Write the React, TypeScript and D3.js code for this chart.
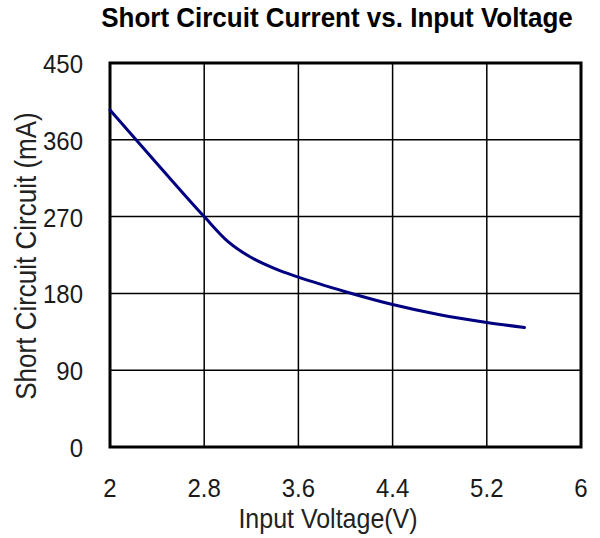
import React, { useEffect, useRef } from 'react';
import * as d3 from 'd3';

// values
const voltage = [2.0, 2.4, 2.8, 3.0, 3.2, 3.4, 3.6, 4.0, 4.4, 4.8, 5.2, 5.52];
const current = [395, 332, 270, 241, 222, 209, 199, 182, 167, 155, 146, 140];
const xTicks = [2, 2.8, 3.6, 4.4, 5.2, 6];
const yTicks = [0, 90, 180, 270, 360, 450];

const title = 'Short Circuit Current vs. Input Voltage';
const xLabel = 'Input Voltage(V)';
const yLabel = 'Short Circuit Circuit (mA)';

const W = 600;
const H = 538;
const margin = { top: 63, right: 19, bottom: 91, left: 110 };

export default function App() {
    const svgRef = useRef<SVGSVGElement>(null);

    useEffect(() => {
        const svg = d3.select(svgRef.current);
        svg.selectAll('*').remove();

        const w = W - margin.left - margin.right;
        const h = H - margin.top - margin.bottom;

        const x = d3.scaleLinear().domain([2, 6]).range([0, w]);
        const y = d3.scaleLinear().domain([0, 450]).range([h, 0]);

        const font = '"Liberation Sans", Arial, sans-serif';
        // the reference text is a bit taller than it is wide
        const stretch = 'scale(1,1.1)';

        svg.append('text')
            .attr('transform', `translate(337,27) scale(1,1.05)`)
            .attr('text-anchor', 'middle')
            .attr('font-family', font)
            .attr('font-weight', 'bold')
            .attr('font-size', 26)
            .attr('fill', '#000')
            .text(title);

        const g = svg.append('g').attr('transform', `translate(${margin.left},${margin.top})`);

        // grid
        g.append('g')
            .selectAll('line')
            .data(xTicks.slice(1, -1))
            .join('line')
            .attr('x1', (d) => x(d))
            .attr('x2', (d) => x(d))
            .attr('y1', 0)
            .attr('y2', h)
            .attr('stroke', '#000')
            .attr('stroke-width', 1.5);

        g.append('g')
            .selectAll('line')
            .data(yTicks.slice(1, -1))
            .join('line')
            .attr('x1', 0)
            .attr('x2', w)
            .attr('y1', (d) => y(d))
            .attr('y2', (d) => y(d))
            .attr('stroke', '#000')
            .attr('stroke-width', 1.5);

        g.append('rect')
            .attr('x', 0)
            .attr('y', 0)
            .attr('width', w)
            .attr('height', h)
            .attr('fill', 'none')
            .attr('stroke', '#000')
            .attr('stroke-width', 3);

        // tick labels
        g.append('g')
            .selectAll('text')
            .data(yTicks)
            .join('text')
            .attr('transform', (d) => `translate(-27,${y(d) + 10}) ${stretch}`)
            .attr('text-anchor', 'end')
            .attr('font-family', font)
            .attr('font-size', 24)
            .attr('fill', '#1a1a1a')
            .text((d) => d);

        g.append('g')
            .selectAll('text')
            .data(xTicks)
            .join('text')
            .attr('transform', (d) => `translate(${x(d)},${h + 50}) ${stretch}`)
            .attr('text-anchor', 'middle')
            .attr('font-family', font)
            .attr('font-size', 24)
            .attr('fill', '#1a1a1a')
            .text((d) => d);

        svg.append('text')
            .attr('transform', `translate(328,528) ${stretch}`)
            .attr('text-anchor', 'middle')
            .attr('font-family', font)
            .attr('font-size', 25)
            .attr('fill', '#222')
            .text(xLabel);

        svg.append('text')
            .attr('transform', `translate(36,256) rotate(-90) ${stretch}`)
            .attr('text-anchor', 'middle')
            .attr('font-family', font)
            .attr('font-size', 26)
            .attr('fill', '#222')
            .text(yLabel);

        const pts = voltage.map((v, i) => [v, current[i]] as [number, number]);
        g.append('path')
            .datum(pts)
            .attr('fill', 'none')
            .attr('stroke', '#000080')
            .attr('stroke-width', 3)
            .attr('stroke-linecap', 'round')
            .attr(
                'd',
                d3
                    .line<[number, number]>()
                    .x((d) => x(d[0]))
                    .y((d) => y(d[1]))
                    .curve(d3.curveMonotoneX)
            );
    }, []);

    return (
        <div style={{ position: 'fixed', left: 0, top: 0, background: '#fff' }}>
            <svg ref={svgRef} width={W} height={H} style={{ display: 'block' }} />
        </div>
    );
}
